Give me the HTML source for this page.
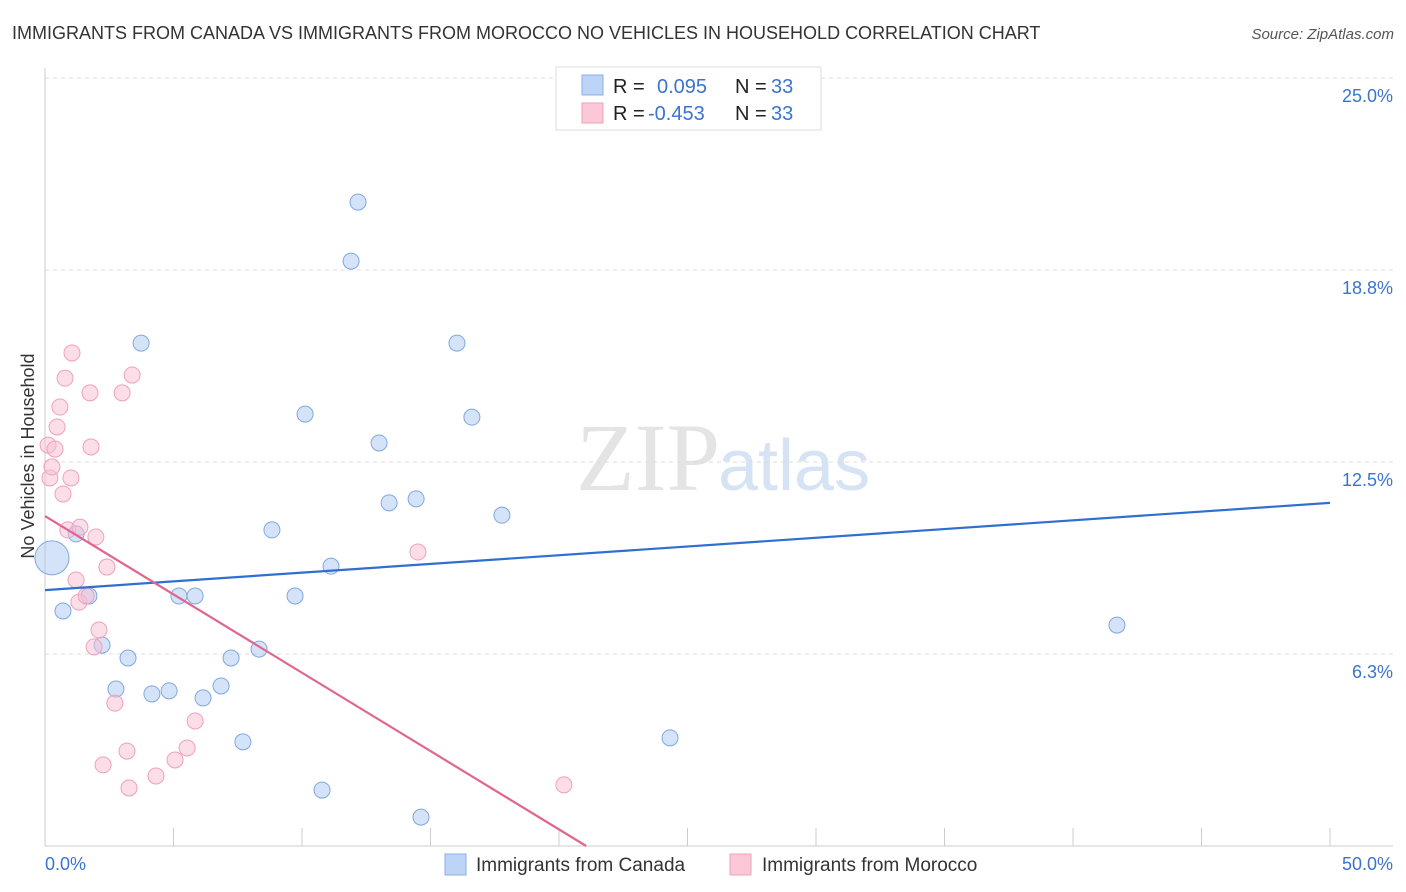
<!DOCTYPE html>
<html><head><meta charset="utf-8">
<style>
body{margin:0;background:#fff;font-family:"Liberation Sans",sans-serif;}
#c{position:absolute;left:0;top:0;}
</style></head>
<body>
<svg id="c" width="1406" height="892">
<text x="12" y="39" font-size="18" fill="#333">IMMIGRANTS FROM CANADA VS IMMIGRANTS FROM MOROCCO NO VEHICLES IN HOUSEHOLD CORRELATION CHART</text>
<text x="1394" y="39" font-size="15" fill="#555" font-style="italic" text-anchor="end">Source: ZipAtlas.com</text>
<text x="720" y="490" font-size="96" fill="#e4e4e4" font-family="Liberation Serif,serif" text-anchor="end">ZIP</text>
<text x="718" y="490" font-size="72" fill="#d6e3f5">atlas</text>
<g id="grid"></g>
<g id="axes"></g>
<g id="marks"></g>
<text transform="translate(34,456) rotate(-90)" font-size="18" fill="#333" text-anchor="middle">No Vehicles in Household</text>
<g>
<rect x="556" y="67" width="265" height="63" fill="#fff" stroke="#ddd"/>
<rect x="582" y="75" width="21" height="20" fill="#bcd4f6" stroke="#8ab0e8"/>
<rect x="582" y="103" width="21" height="20" fill="#fcc8d8" stroke="#f0a0b8"/>
<text x="613" y="93" font-size="20" fill="#222">R =</text>
<text x="657" y="93" font-size="20" fill="#3a74d0">0.095</text>
<text x="735" y="93" font-size="20" fill="#222">N =</text>
<text x="771" y="93" font-size="20" fill="#3a74d0">33</text>
<text x="613" y="120" font-size="20" fill="#222">R =</text>
<text x="648" y="120" font-size="20" fill="#3a74d0">-0.453</text>
<text x="735" y="120" font-size="20" fill="#222">N =</text>
<text x="771" y="120" font-size="20" fill="#3a74d0">33</text>
</g>
<g>
<rect x="445" y="854" width="21" height="21" fill="#bcd4f6" stroke="#8ab0e8"/>
<text x="476" y="871" font-size="19" fill="#333">Immigrants from Canada</text>
<rect x="730" y="854" width="21" height="21" fill="#fcc8d8" stroke="#f0a0b8"/>
<text x="762" y="871" font-size="19" fill="#333">Immigrants from Morocco</text>
</g>
</svg>
<script>
const yTicks=[6.25,12.5,18.75,25];
const yTickLabels=["6.3%","12.5%","18.8%","25.0%"];
const xTickLabels=["0.0%","50.0%"];
const canadaX=[0.27,0.70,1.21,1.71,2.22,2.76,3.23,3.74,4.16,4.83,5.21,5.84,6.15,6.85,7.24,7.70,8.33,8.83,9.73,10.12,10.78,11.13,11.91,12.18,13.00,13.39,14.44,14.63,16.03,16.61,17.78,24.32,41.71];
const canadaY=[9.38,7.65,10.16,8.14,6.54,5.11,6.12,16.37,4.95,5.05,8.14,8.14,4.82,5.21,6.12,3.39,6.41,10.29,8.14,14.06,1.82,9.11,19.04,20.96,13.12,11.17,11.30,0.94,16.37,13.96,10.77,3.52,7.19];
const moroccoX=[0.12,0.19,0.27,0.39,0.47,0.58,0.70,0.78,0.89,1.01,1.05,1.21,1.36,1.32,1.60,1.75,1.79,1.91,1.98,2.10,2.26,2.41,2.72,3.00,3.19,3.27,3.39,4.32,5.06,5.53,5.84,14.51,20.19];
const moroccoY=[13.05,11.98,12.34,12.92,13.64,14.29,11.46,15.23,10.29,11.98,16.05,8.66,10.38,7.94,8.14,14.75,12.99,6.48,10.06,7.03,2.64,9.08,4.65,14.75,3.09,1.89,15.33,2.28,2.80,3.19,4.07,9.57,1.99];
const canadaTrend=[8.33,11.17]; // y at x=0 and x=50
const moroccoTrend=[10.74,-0.51]; // intercept, slope
const NS='http://www.w3.org/2000/svg';
const X=v=>45+v/50*1285, Y=v=>846-v/6.25*192;
function mk(t,a,p){const e=document.createElementNS(NS,t);for(const k in a)e.setAttribute(k,a[k]);p.appendChild(e);return e;}
const grid=document.getElementById('grid'),axes=document.getElementById('axes'),marks=document.getElementById('marks');
yTicks.forEach((t,i)=>{
 const l=mk('line',{x1:45,x2:1393,y1:Y(t),y2:Y(t),stroke:'#ddd','stroke-dasharray':'4,4'},grid);
 
 
 const tx=mk('text',{x:1393,y:Y(t)+24,'font-size':18,fill:'#3a74d0','text-anchor':'end'},axes);
 tx.textContent=yTickLabels[i];
 
 
});
const ax=mk('line',{x1:45,x2:1393,y1:846,y2:846,stroke:'#ccc'},axes);


const ay=mk('line',{x1:45,x2:45,y1:68,y2:846,stroke:'#ccc'},axes);


for(let i=0;i<=10;i++){const t=mk('line',{x1:X(i*5),x2:X(i*5),y1:828,y2:846,stroke:'#ccc'},axes);
 
 }
[[0,'start',45],[50,'end',1393]].forEach((d,i)=>{const t=mk('text',{x:d[2],y:870,'font-size':18,fill:'#3a74d0','text-anchor':d[1]},axes);
 t.textContent=xTickLabels[i];
 
 });
canadaX.forEach((x,i)=>{const c=mk('circle',{cx:X(x),cy:Y(canadaY[i]),r:i==0?17:8,fill:'rgba(170,200,242,0.5)',stroke:'#7fa8e0'},marks);
 
 });
moroccoX.forEach((x,i)=>{const c=mk('circle',{cx:X(x),cy:Y(moroccoY[i]),r:8,fill:'rgba(250,190,210,0.5)',stroke:'#f0a0bc'},marks);
 
 });
const bl=mk('line',{x1:X(0),y1:Y(canadaTrend[0]),x2:X(50),y2:Y(canadaTrend[1]),stroke:'#2f6fd0','stroke-width':2.2},marks);


const xe=(0-moroccoTrend[0])/moroccoTrend[1];
const pl=mk('line',{x1:X(0),y1:Y(moroccoTrend[0]),x2:X(xe),y2:Y(0),stroke:'#e06690','stroke-width':2.2},marks);


</script>
</body></html>
